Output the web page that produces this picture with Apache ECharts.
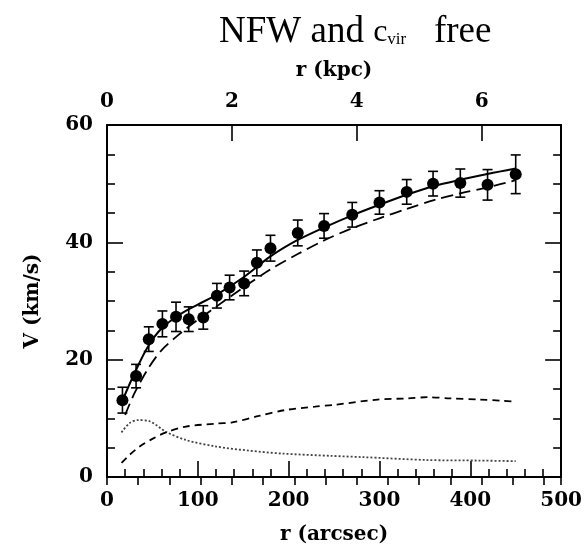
<!DOCTYPE html>
<html>
<head>
<meta charset="utf-8">
<script src="https://cdn.jsdelivr.net/npm/echarts@6/dist/echarts.min.js"></script>
<style>
  html, body { margin: 0; padding: 0; background: #ffffff; }
  #chart { width: 585px; height: 553px; }
</style>
</head>
<body>
<div id="chart"></div>
<script>
/* =====================================================
 * Rotation curve data
 * ===================================================== */

// observed points: radius (arcsec), velocity (km/s), 1-sigma error
const obsRadius = [17, 32, 46, 61, 76, 90, 106, 121, 135, 151, 165, 180, 210, 239, 270, 300, 330, 359, 389, 419, 450];
const obsVelocity = [13.1, 17.2, 23.5, 26.1, 27.3, 26.9, 27.2, 30.9, 32.3, 33.0, 36.5, 39.0, 41.6, 42.8, 44.7, 46.8, 48.6, 50.0, 50.1, 49.8, 51.6];
const obsError = [2.2, 2.0, 2.1, 2.2, 2.5, 2.1, 2.0, 2.1, 2.1, 2.1, 2.2, 2.2, 2.2, 2.1, 2.1, 2.0, 2.1, 2.1, 2.4, 2.6, 3.3];

// total model (solid)
const fitRadius = [15, 30, 45, 60, 80, 100, 120, 150, 180, 210, 240, 270, 300, 330, 360, 390, 420, 450];
const fitVelocity = [12.3, 17.6, 22.2, 25.3, 27.7, 29.4, 31.0, 34.0, 37.6, 40.4, 42.6, 44.6, 46.4, 48.1, 49.6, 50.7, 51.7, 52.6];

// NFW halo (long dashes)
const haloRadius = [20, 30, 45, 60, 80, 100, 120, 150, 180, 210, 240, 270, 300, 330, 360, 390, 420, 450];
const haloVelocity = [10.6, 14.2, 18.4, 21.6, 24.4, 26.8, 29.0, 32.3, 35.4, 38.0, 40.4, 42.4, 44.1, 45.7, 47.2, 48.4, 49.4, 50.6];

// gas (short dashes)
const gasRadius = [16, 25, 36, 50, 65, 87, 120, 138, 167, 196, 229, 250, 298, 331, 353, 378, 410, 436, 450];
const gasVelocity = [2.4, 3.8, 5.2, 6.5, 7.6, 8.6, 9.1, 9.3, 10.4, 11.4, 12.0, 12.3, 13.2, 13.4, 13.6, 13.4, 13.2, 13.0, 12.8];

// stars (dotted)
const starRadius = [16, 25, 34, 47, 65, 87, 120, 156, 192, 247, 280, 352, 410, 450];
const starVelocity = [7.6, 9.2, 9.7, 9.5, 7.7, 6.3, 5.2, 4.5, 4.0, 3.6, 3.4, 2.9, 2.8, 2.7];

// axes
const arcsecTicks = [0, 100, 200, 300, 400, 500];
const kpcTicks = [0, 2, 4, 6];
const velocityTicks = [0, 20, 40, 60];
const arcsecPerKpc = 68.75;

/* =====================================================
 * Helpers
 * ===================================================== */

const pairs = (xs, ys) => xs.map((x, i) => [x, ys[i]]);

const labelFont = {
    fontFamily: "DejaVu Serif",
    fontWeight: "bold",
    fontSize: 20,
    color: "#000"
};

const frameLine = { show: true, onZero: false, lineStyle: { color: "#000", width: 2 } };
const majorTick = { inside: true, length: 16, lineStyle: { color: "#000", width: 1.6 } };
const minorTick = { show: true, length: 8, lineStyle: { color: "#000", width: 1.6 } };

function errorBar(params, api) {
    const x = api.value(0);
    const y = api.value(1);
    const e = api.value(2);
    const top = api.coord([x, y + e]);
    const bot = api.coord([x, y - e]);
    const cap = 5;
    const style = { stroke: "#000", lineWidth: 1.6 };
    return {
        type: "group",
        children: [
            { type: "line", shape: { x1: top[0], y1: top[1], x2: bot[0], y2: bot[1] }, style },
            { type: "line", shape: { x1: top[0] - cap, y1: top[1], x2: top[0] + cap, y2: top[1] }, style },
            { type: "line", shape: { x1: bot[0] - cap, y1: bot[1], x2: bot[0] + cap, y2: bot[1] }, style }
        ]
    };
}

/* =====================================================
 * Chart
 * ===================================================== */

const chart = echarts.init(document.getElementById("chart"), null, { renderer: "canvas" });

const serif = { fontFamily: "Liberation Serif", fontWeight: "normal", color: "#000" };

chart.setOption({
    backgroundColor: "#ffffff",
    animation: false,
    title: {
        text: "{a|NFW and }{c|c}{s|vir}{a|   free}",
        left: 214,
        top: 9,
        textStyle: {
            fontWeight: "normal",
            rich: {
                a: Object.assign({ fontSize: 37 }, serif),
                c: Object.assign({ fontSize: 32 }, serif),
                s: Object.assign({ fontSize: 17, padding: [15, 0, 0, 0] }, serif)
            }
        }
    },
    grid: { left: 107, top: 125, width: 458, height: 352 },
    xAxis: [
        {
            type: "value",
            position: "bottom",
            min: arcsecTicks[0],
            max: arcsecTicks[arcsecTicks.length - 1],
            interval: 100,
            axisLine: frameLine,
            axisTick: majorTick,
            minorTick: Object.assign({ splitNumber: 5 }, minorTick),
            splitLine: { show: false },
            axisLabel: Object.assign({ margin: 14 }, labelFont),
            name: "r (arcsec)",
            nameLocation: "middle",
            nameGap: 48,
            nameTextStyle: labelFont
        },
        {
            type: "value",
            position: "top",
            min: 0,
            max: arcsecTicks[arcsecTicks.length - 1] / arcsecPerKpc,
            interval: 2,
            axisLine: frameLine,
            axisTick: majorTick,
            splitLine: { show: false },
            axisLabel: Object.assign({
                margin: 13,
                formatter: v => (kpcTicks.indexOf(v) >= 0 ? String(v) : "")
            }, labelFont),
            name: "r (kpc)",
            nameLocation: "middle",
            nameGap: 44,
            nameTextStyle: labelFont
        },
        {
            type: "value",
            position: "top",
            min: 0,
            max: arcsecTicks[arcsecTicks.length - 1] / arcsecPerKpc,
            interval: 0.5,
            axisLine: { show: false },
            axisTick: Object.assign({ inside: true }, minorTick),
            splitLine: { show: false },
            axisLabel: { show: false }
        }
    ],
    yAxis: [
        {
            type: "value",
            position: "left",
            min: velocityTicks[0],
            max: velocityTicks[velocityTicks.length - 1],
            interval: 20,
            axisLine: frameLine,
            axisTick: majorTick,
            minorTick: Object.assign({ splitNumber: 4 }, minorTick),
            splitLine: { show: false },
            axisLabel: Object.assign({ margin: 14 }, labelFont),
            name: "V (km/s)",
            nameLocation: "middle",
            nameGap: 64,
            nameTextStyle: labelFont
        },
        {
            type: "value",
            position: "right",
            min: velocityTicks[0],
            max: velocityTicks[velocityTicks.length - 1],
            interval: 20,
            axisLine: frameLine,
            axisTick: majorTick,
            minorTick: Object.assign({ splitNumber: 4 }, minorTick),
            splitLine: { show: false },
            axisLabel: { show: false }
        }
    ],
    series: [
        {
            name: "stars",
            type: "line",
            data: pairs(starRadius, starVelocity),
            smooth: 0.3,
            symbol: "none",
            lineStyle: { color: "#444", width: 1.8, type: [2, 2] }
        },
        {
            name: "gas",
            type: "line",
            data: pairs(gasRadius, gasVelocity),
            smooth: 0.3,
            symbol: "none",
            lineStyle: { color: "#000", width: 1.8, type: [7, 5] }
        },
        {
            name: "halo",
            type: "line",
            data: pairs(haloRadius, haloVelocity),
            smooth: 0.3,
            symbol: "none",
            lineStyle: { color: "#000", width: 1.8, type: [12, 6] }
        },
        {
            name: "total",
            type: "line",
            data: pairs(fitRadius, fitVelocity),
            smooth: 0.3,
            symbol: "none",
            lineStyle: { color: "#000", width: 2 }
        },
        {
            name: "errors",
            type: "custom",
            renderItem: errorBar,
            data: obsRadius.map((r, i) => [r, obsVelocity[i], obsError[i]]),
            encode: { x: 0, y: 1 },
            z: 3
        },
        {
            name: "observed",
            type: "scatter",
            data: pairs(obsRadius, obsVelocity),
            symbol: "circle",
            symbolSize: 12,
            itemStyle: { color: "#000", opacity: 1 },
            z: 4
        }
    ]
});
</script>
</body>
</html>
